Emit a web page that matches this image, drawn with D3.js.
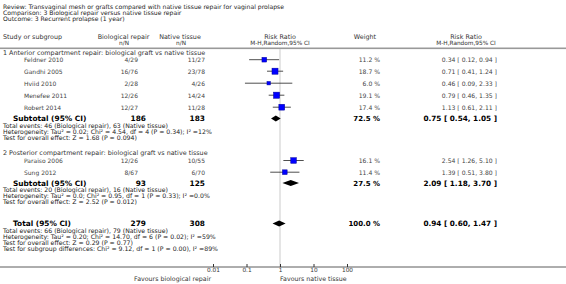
<!DOCTYPE html>
<html><head><meta charset="utf-8">
<script src="https://cdn.jsdelivr.net/npm/d3@7"></script>
<style>body{margin:0;background:#fff}svg{display:block}</style>
</head><body>
<svg id="c" width="566" height="284"></svg>
<script>
// ---------- data ----------
const titleLines = ["Review:  Transvaginal mesh or grafts compared with native tissue repair for vaginal prolapse",
  "Comparison:  3 Biological repair versus native tissue repair",
  "Outcome:  3 Recurrent prolapse (1 year)"];
const groupTitles = ["1 Anterior compartment repair: biological graft vs native tissue",
  "2 Posterior compartment repair: biological graft vs native tissue"];
const studyNames = [["Feldner 2010","Gandhi 2005","Hviid 2010","Menefee 2011","Robert 2014"],["Paraiso 2006","Sung 2012"]];
const bioEvents = [[4,16,2,12,12],[12,8]];
const bioTotal  = [[29,76,28,26,27],[26,67]];
const natEvents = [[11,23,4,14,11],[10,6]];
const natTotal  = [[27,78,26,24,28],[55,70]];
const weights   = [[11.2,18.7,6.0,19.1,17.4],[16.1,11.4]];
const rr        = [[0.34,0.71,0.46,0.79,1.13],[2.54,1.39]];
const rrLo      = [[0.12,0.41,0.09,0.46,0.61],[1.26,0.51]];
const rrHi      = [[0.94,1.24,2.33,1.35,2.11],[5.10,3.80]];
const subBio    = [186,93];
const subNat    = [183,125];
const subWeight = [72.5,27.5];
const subRR     = [0.75,2.09];
const subLo     = [0.54,1.18];
const subHi     = [1.05,3.70];
const subNotes  = [["Total events: 46 (Biological repair), 63 (Native tissue)",
  "Heterogeneity: Tau² = 0.02; Chi² = 4.54, df = 4 (P = 0.34); I² =12%",
  "Test for overall effect: Z = 1.68 (P = 0.094)"],
 ["Total events: 20 (Biological repair), 16 (Native tissue)",
  "Heterogeneity: Tau² = 0.0; Chi² = 0.95, df = 1 (P = 0.33); I² =0.0%",
  "Test for overall effect: Z = 2.52 (P = 0.012)"]];
const totBio = 279, totNat = 308, totWeight = 100.0, totRR = 0.94, totLo = 0.60, totHi = 1.47;
const totNotes = ["Total events: 66 (Biological repair), 79 (Native tissue)",
  "Heterogeneity: Tau² = 0.20; Chi² = 14.70, df = 6 (P = 0.02); I² =59%",
  "Test for overall effect: Z = 0.29 (P = 0.77)",
  "Test for subgroup differences: Chi² = 9.12, df = 1 (P = 0.00), I² =89%"];
const tickValues = [0.01,0.1,1,10,100];
const tickLabels = ["0.01","0.1","1","10","100"];
const favourLeft = "Favours biological repair", favourRight = "Favours native tissue";

// ---------- drawing ----------
const svg = d3.select("#c");
const FONT = "DejaVu Sans, Verdana, sans-serif";
const x = d3.scaleLog().domain([0.01,100]).range([213,347]);
const fmt2 = d3.format(".2f");

function txt(xp, y, s, opt={}) {
  return svg.append("text").attr("x", xp).attr("y", y).text(s)
    .attr("font-family", FONT)
    .attr("font-size", opt.size || 6.2)
    .attr("font-weight", opt.bold ? "bold" : "normal")
    .attr("text-anchor", opt.anchor || "start")
    .attr("fill", opt.color || "#333");
}

// title
titleLines.forEach((t,i)=>txt(3, 9 + i*6, t, {color:"#222", size:6.1}));

// headers
const hy1 = 38.5, hy2 = 45.3;
txt(3, hy1, "Study or subgroup", {size:6.4});
txt(123.5, hy1, "Biological repair", {anchor:"middle", size:6.4});
txt(124, hy2, "n/N", {anchor:"middle", size:5.8});
txt(180, hy1, "Native tissue", {anchor:"middle", size:6.4});
txt(181, hy2, "n/N", {anchor:"middle", size:5.8});
txt(280, hy1, "Risk Ratio", {anchor:"middle", size:6.4});
txt(280, hy2, "M-H,Random,95% CI", {anchor:"middle", size:5.8});
txt(365, hy1, "Weight", {anchor:"middle", size:6.4});
txt(466, hy1, "Risk Ratio", {anchor:"middle", size:6.4});
txt(466, hy2, "M-H,Random,95% CI", {anchor:"middle", size:5.8});
svg.append("rect").attr("x",0).attr("y",47.5).attr("width",566).attr("height",1.6).attr("fill","#999");

// line of no effect
svg.append("line").attr("x1",x(1)).attr("x2",x(1)).attr("y1",49).attr("y2",267)
  .attr("stroke","#ddd").attr("stroke-width",1.5);

function ciText(v,l,h){ return `${fmt2(v)} [ ${fmt2(l)}, ${fmt2(h)} ]`; }

function diamond(y, v, l, h) {
  const hh = 3;
  svg.append("path").attr("d",
    `M${x(l)},${y} L${x(v)},${y-hh} L${x(h)},${y} L${x(v)},${y+hh} Z`).attr("fill","#000");
}

const groupY = [[55, [62,73.5,85.5,97.5,109.5], 121, [127.5,133.5,139.5]],
                [155, [162.8,174.5], 185.6, [192.2,198.1,204]]];

groupY.forEach((g, gi) => {
  const [ghy, rows, sy, notesY] = g;
  txt(3, ghy, groupTitles[gi], {size:6.4});
  rows.forEach((ry, i) => {
    txt(24, ry, studyNames[gi][i], {color:"#444", size:6});
    txt(138, ry, `${bioEvents[gi][i]}/${bioTotal[gi][i]}`, {anchor:"end", color:"#444", size:6});
    txt(205, ry, `${natEvents[gi][i]}/${natTotal[gi][i]}`, {anchor:"end", color:"#444", size:6});
    txt(380, ry, `${weights[gi][i].toFixed(1)} %`, {anchor:"end", color:"#444", size:6.1});
    txt(497, ry, ciText(rr[gi][i], rrLo[gi][i], rrHi[gi][i]), {anchor:"end", color:"#444", size:6.1});
    const cy = ry - 2.3;
    svg.append("line").attr("x1",x(rrLo[gi][i])).attr("x2",x(rrHi[gi][i]))
      .attr("y1",cy).attr("y2",cy).attr("stroke","#222").attr("stroke-width",0.8);
    const s = Math.sqrt(weights[gi][i]) * 1.4;
    svg.append("rect").attr("x", x(rr[gi][i]) - s/2).attr("y", cy - s/2)
      .attr("width", s).attr("height", s).attr("fill","#0000ff").attr("stroke","#000099").attr("stroke-width",0.5);
  });
  txt(13, sy, "Subtotal (95% CI)", {bold:true, size:7.4, color:"#000"});
  txt(146, sy, String(subBio[gi]), {bold:true, size:7.4, anchor:"end", color:"#000"});
  txt(205, sy, String(subNat[gi]), {bold:true, size:7.4, anchor:"end", color:"#000"});
  txt(380, sy, `${subWeight[gi].toFixed(1)} %`, {bold:true, size:7, anchor:"end", color:"#000"});
  txt(497, sy, ciText(subRR[gi], subLo[gi], subHi[gi]), {bold:true, size:7.3, anchor:"end", color:"#000"});
  diamond(sy - 2.5, subRR[gi], subLo[gi], subHi[gi]);
  subNotes[gi].forEach((n, k) => txt(3, notesY[k], n, {color:"#222"}));
});

// total
const ty = 226;
txt(13, ty, "Total (95% CI)", {bold:true, size:7.4, color:"#000"});
txt(146, ty, String(totBio), {bold:true, size:7.4, anchor:"end", color:"#000"});
txt(205, ty, String(totNat), {bold:true, size:7.4, anchor:"end", color:"#000"});
txt(380, ty, `${totWeight.toFixed(1)} %`, {bold:true, size:7, anchor:"end", color:"#000"});
txt(497, ty, ciText(totRR, totLo, totHi), {bold:true, size:7.3, anchor:"end", color:"#000"});
diamond(ty - 2.5, totRR, totLo, totHi);
totNotes.forEach((n,k)=>txt(3, 232.5 + k*6, n, {color:"#222"}));

// axis
svg.append("line").attr("x1",0).attr("x2",566).attr("y1",267).attr("y2",267).attr("stroke","#333").attr("stroke-width",0.8);
const axis = d3.axisBottom(x).tickValues(tickValues).tickFormat((d,i)=>tickLabels[i]).tickSize(-3).tickPadding(2);
const ag = svg.append("g").attr("transform","translate(0,267)").call(axis);
ag.select(".domain").remove();
ag.selectAll(".tick line").attr("stroke","#333").attr("y2",-3);
ag.selectAll(".tick text").attr("font-family",FONT).attr("font-size",5.8).attr("fill","#333").attr("dy","0.55em");
txt(211, 281, favourLeft, {anchor:"end", size:6.3});
txt(x(1), 281, favourRight, {anchor:"start", size:6.3});
</script>
</body></html>
